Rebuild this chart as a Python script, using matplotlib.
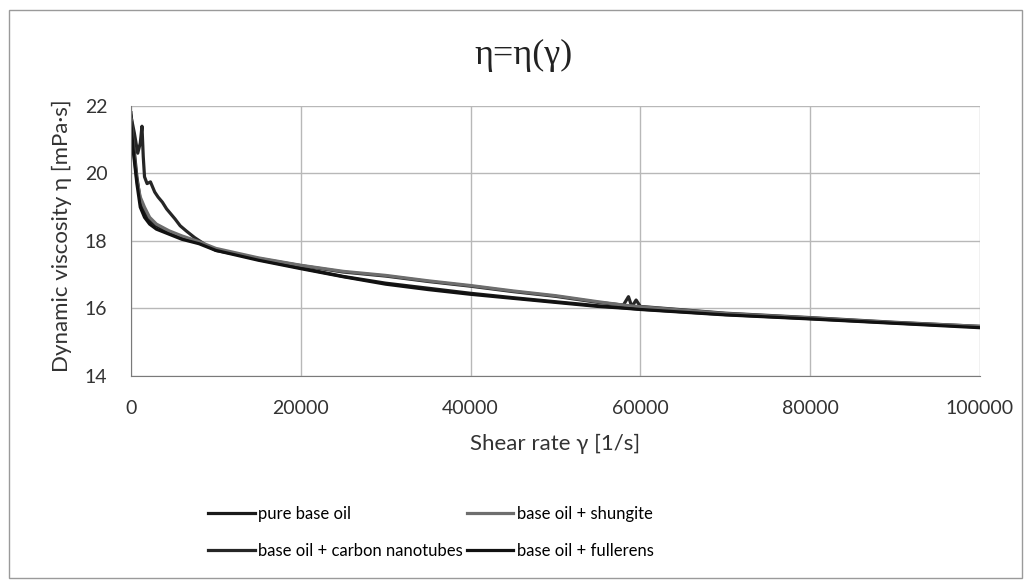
import matplotlib.pyplot as plt
from matplotlib.patches import Rectangle

# shear rate [1/s]
x_pure = [0, 300, 700, 1100, 1600, 2200, 3000, 4500, 6000, 8000, 10000, 15000, 20000,
          25000, 30000, 35000, 40000, 45000, 50000, 55000, 58000, 60000, 70000, 80000, 90000, 100000]
y_pure = [21.8, 20.9, 19.9, 19.2, 18.85, 18.6, 18.45, 18.25, 18.1, 17.95, 17.75, 17.45, 17.2,
          16.95, 16.75, 16.6, 16.45, 16.32, 16.2, 16.08, 16.02, 15.98, 15.82, 15.7, 15.57, 15.45]

x_shungite = [0, 300, 700, 1100, 1600, 2200, 3000, 4500, 6000, 8000, 10000, 15000, 20000,
              25000, 30000, 35000, 40000, 45000, 50000, 55000, 58000, 60000, 70000, 80000, 90000, 100000]
y_shungite = [21.6, 20.7, 19.8, 19.3, 19.0, 18.7, 18.5, 18.3, 18.15, 17.98, 17.78, 17.5, 17.28,
              17.1, 16.98, 16.82, 16.68, 16.52, 16.38, 16.2, 16.1, 16.05, 15.85, 15.72, 15.58, 15.47]

x_nanotubes = [0, 400, 800, 1100, 1300, 1450, 1600, 1900, 2300, 2800, 3200, 3700, 4200, 4700,
               5200, 5800, 6500, 7500, 9000, 10000, 15000, 20000, 25000, 30000, 35000, 40000,
               45000, 50000, 55000, 58000, 58600, 59000, 59500, 60000, 70000, 80000, 90000, 100000]
y_nanotubes = [21.7, 21.2, 20.6, 20.9, 21.4, 20.5, 19.9, 19.7, 19.75, 19.45, 19.3, 19.15, 18.95, 18.8,
               18.65, 18.45, 18.3, 18.1, 17.85, 17.72, 17.48, 17.27, 17.08, 16.96, 16.8, 16.66,
               16.5, 16.36, 16.18, 16.1, 16.35, 16.05, 16.25, 16.06, 15.86, 15.73, 15.59, 15.47]

x_fullerens = [0, 300, 700, 1100, 1600, 2200, 3000, 4500, 6000, 8000, 10000, 15000, 20000,
               25000, 30000, 35000, 40000, 45000, 50000, 55000, 58000, 60000, 70000, 80000, 90000, 100000]
y_fullerens = [21.5, 20.6, 19.7, 19.0, 18.7, 18.5, 18.35, 18.2, 18.05, 17.92, 17.72, 17.43, 17.18,
               16.94, 16.72, 16.56, 16.42, 16.3, 16.18, 16.06, 16.01, 15.97, 15.81, 15.69, 15.56, 15.43]

plt.rcParams['font.family'] = ['Lato', 'DejaVu Sans']

fig = plt.figure(figsize=(10.31, 5.87), dpi=100)
ax = fig.add_axes([0.127, 0.3595, 0.8235, 0.46])

ax.plot(x_pure, y_pure, color='#1a1a1a', lw=2.3, label='pure base oil')
ax.plot(x_nanotubes, y_nanotubes, color='#262626', lw=2.3, label='base oil + carbon nanotubes')
ax.plot(x_shungite, y_shungite, color='#6e6e6e', lw=2.3, label='base oil + shungite')
ax.plot(x_fullerens, y_fullerens, color='#111111', lw=2.3, label='base oil + fullerens')

ax.set_xlim(0, 100000)
ax.set_ylim(14, 22)
ax.set_xticks(range(0, 100001, 20000))
ax.set_yticks(range(14, 23, 2))
ax.grid(True, color='#b8b8b8', lw=1)
ax.set_axisbelow(True)
for s in ['top', 'right']:
    ax.spines[s].set_visible(False)
for s in ['left', 'bottom']:
    ax.spines[s].set_color('#7a7a7a')
ax.tick_params(length=0, labelsize=14, colors='#333333')
ax.tick_params(axis='x', pad=17)
ax.tick_params(axis='y', pad=17)

fig.text(0.508, 0.906, 'η=η(γ)', fontsize=26, ha='center', va='center',
         family=['Liberation Serif', 'DejaVu Serif'], color='#222222')
ax.set_xlabel('Shear rate γ [1/s]', fontsize=16, color='#333333')
ax.xaxis.set_label_coords(0.5, -0.215)
ax.set_ylabel('Dynamic viscosity η [mPa·s]', fontsize=16, color='#333333')
ax.yaxis.set_label_coords(-0.0695, 0.52)

fig.legend(loc='center', bbox_to_anchor=(0.418, 0.093), ncol=2, frameon=False,
           fontsize=12, handlelength=2.8, handletextpad=0.2, columnspacing=0.2,
           labelspacing=1.25)

# outer border
fig.patches.append(Rectangle((0.009, 0.015), 0.982, 0.968, transform=fig.transFigure,
                             fill=False, edgecolor='#9a9a9a', lw=1))

fig.savefig('out.png', dpi=100)
